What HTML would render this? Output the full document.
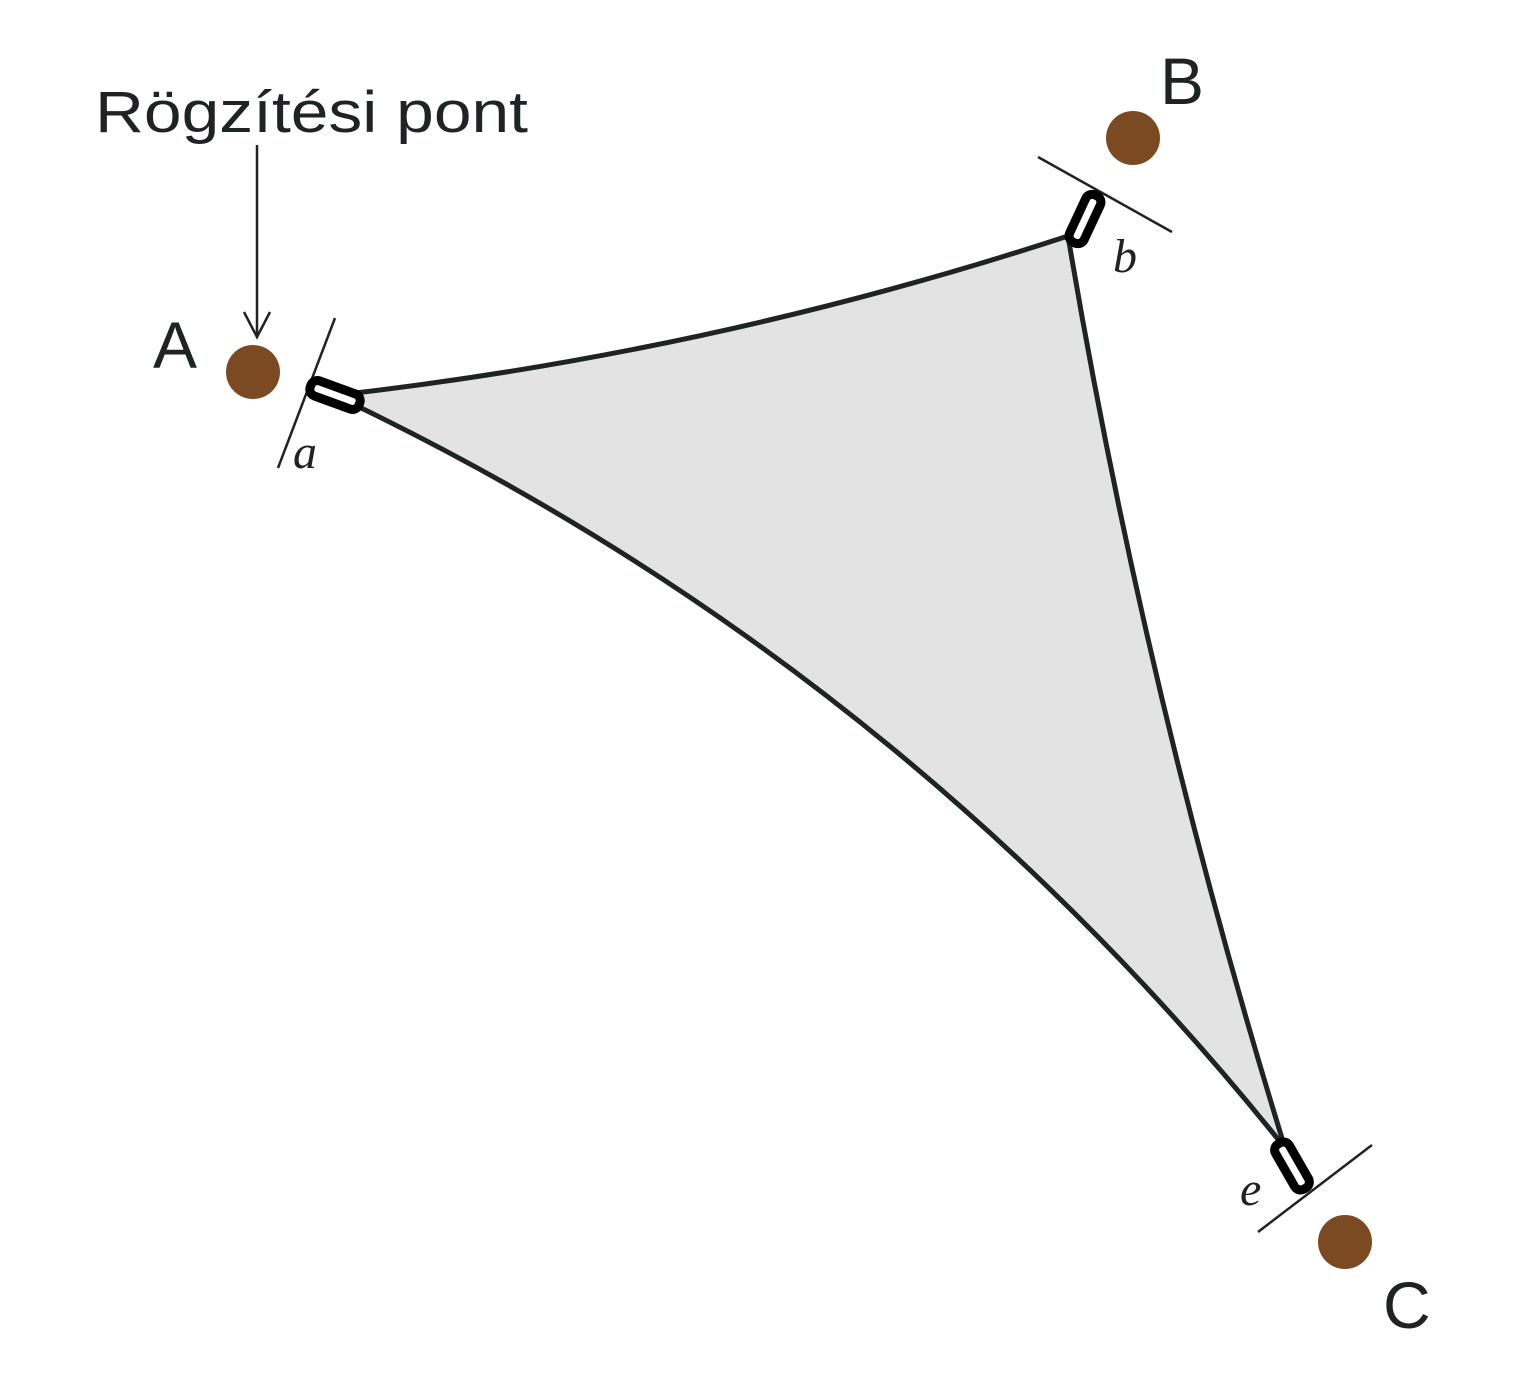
<!DOCTYPE html>
<html><head><meta charset="utf-8"><style>html,body{margin:0;padding:0;background:#fff}</style></head>
<body>
<svg width="1529" height="1382" viewBox="0 0 1529 1382" xmlns="http://www.w3.org/2000/svg">
<path d="M355 393 Q720 350 1068 236 Q1145 695 1285 1148 Q903 670 355 405 Z" fill="#e4e3e4" stroke="#1e2324" stroke-width="5" stroke-linejoin="round"/>
<g stroke="#222" stroke-width="2.5">
<line x1="335" y1="318" x2="278" y2="468"/>
<line x1="1038" y1="157" x2="1172" y2="232"/>
<line x1="1258" y1="1232" x2="1372" y2="1145"/>
<line x1="257" y1="145" x2="257" y2="335"/>
<polyline points="244,312 257,337 270,312" fill="none"/>
</g>
<g fill="#fff" stroke="#000" stroke-width="9">
<rect x="-26" y="-8" width="52" height="16" rx="7" transform="translate(335,395) rotate(20)"/>
<rect x="-26" y="-8" width="52" height="16" rx="7" transform="translate(1085,219) rotate(-65)"/>
<rect x="-26" y="-8" width="52" height="16" rx="7" transform="translate(1292,1166) rotate(60)"/>
</g>
<g fill="#7b4a23">
<circle cx="253" cy="372" r="27"/>
<circle cx="1133" cy="138" r="27"/>
<circle cx="1345" cy="1242" r="27"/>
</g>
<g font-family="Liberation Sans, sans-serif" fill="#1e2324">
<text x="95" y="132" font-size="58" textLength="433" lengthAdjust="spacingAndGlyphs">Rögzítési pont</text>
<text x="153" y="368" font-size="66">A</text>
<text x="1160" y="104" font-size="66">B</text>
<text x="1383" y="1328" font-size="66">C</text>
</g>
<g font-family="Liberation Serif, serif" font-style="italic" font-size="48" fill="#222">
<text x="293" y="468">a</text>
<text x="1113" y="272">b</text>
<text x="1240" y="1205">e</text>
</g>
</svg>
</body></html>
